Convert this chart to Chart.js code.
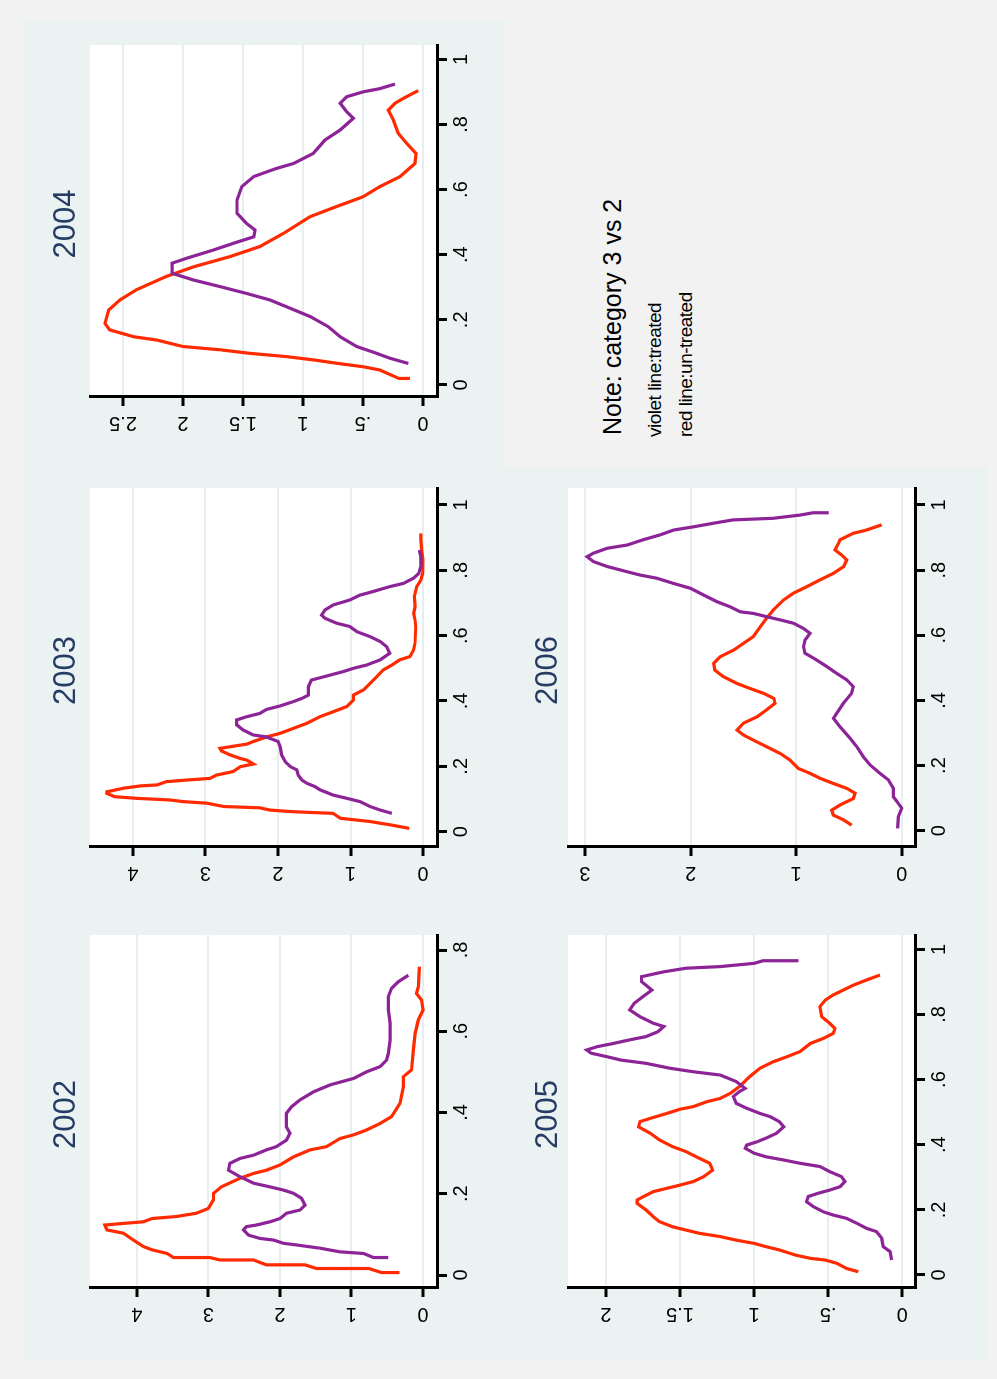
<!DOCTYPE html>
<html>
<head>
<meta charset="utf-8">
<script src="https://cdn.jsdelivr.net/npm/chart.js@4.4.1/dist/chart.umd.min.js"></script>
<style>
  html, body { margin: 0; padding: 0; background: #f7f7f7; overflow: hidden; }
  #stage {
    position: absolute; left: 0; top: 0; width: 1379px; height: 997px;
    transform-origin: 0 0; transform: translate(0, 1379px) rotate(-90deg);
    background: #f2f2f2;
  }
  #stage canvas { position: absolute; }
  .blue { position: absolute; left: 18px; top: 23px; width: 1341px; height: 965px; background: #eaf2f2; }
  .notebox { position: absolute; left: 912px; top: 505px; width: 447px; height: 483px; background: #f2f2f2; }
  .note { position: absolute; white-space: pre; font-family: "Liberation Sans", Arial, sans-serif; color: #000; }
</style>
</head>
<body>
<div id="stage">
  <div class="blue"></div>
  <div class="notebox"></div>
  <canvas id="c2002" width="447" height="482" style="left:18px;top:23px"></canvas>
  <canvas id="c2003" width="447" height="482" style="left:465px;top:23px"></canvas>
  <canvas id="c2004" width="447" height="482" style="left:912px;top:23px"></canvas>
  <canvas id="c2005" width="447" height="483" style="left:18px;top:505px"></canvas>
  <canvas id="c2006" width="447" height="483" style="left:465px;top:505px"></canvas>
  <div class="note" style="left:944px;top:600px;font-size:25px;line-height:25px">Note: category 3 vs 2</div>
  <div class="note" style="left:942px;top:645px;font-size:19px;line-height:19px;letter-spacing:-0.5px">violet line:treated</div>
  <div class="note" style="left:942px;top:676px;font-size:19px;line-height:19px;letter-spacing:-0.5px">red line:un-treated</div>
</div>
<script>
// tick values and labels
const xTicks2002 = [0, .2, .4, .6, .8];
const xLabels2002 = ['0', '.2', '.4', '.6', '.8'];
const xTicks = [0, .2, .4, .6, .8, 1];
const xLabels = ['0', '.2', '.4', '.6', '.8', '1'];
const yTicks2002 = [0, 1, 2, 3, 4];
const yTicks2003 = [0, 1, 2, 3, 4];
const yLabels04 = ['0', '1', '2', '3', '4'];
const yTicks2004 = [0, .5, 1, 1.5, 2, 2.5];
const yLabels2004 = ['0', '.5', '1', '1.5', '2', '2.5'];
const yTicks2005 = [0, .5, 1, 1.5, 2];
const yLabels2005 = ['0', '.5', '1', '1.5', '2'];
const yTicks2006 = [0, 1, 2, 3];
const yLabels2006 = ['0', '1', '2', '3'];

// 2002
const violet2002X = [0.043, 0.043, 0.053, 0.057, 0.066, 0.074, 0.078, 0.086, 0.09, 0.098, 0.111, 0.119, 0.123, 0.131, 0.139, 0.152, 0.16, 0.172, 0.189, 0.201, 0.209, 0.217, 0.226, 0.242, 0.258, 0.275, 0.287, 0.295, 0.308, 0.316, 0.332, 0.349, 0.365, 0.398, 0.414, 0.431, 0.451, 0.468, 0.484, 0.5, 0.513, 0.529, 0.546, 0.578, 0.62, 0.652, 0.685, 0.706, 0.722, 0.738];
const violet2002Y = [0.485, 0.695, 0.83, 1.16, 1.44, 1.77, 1.95, 2.09, 2.28, 2.44, 2.51, 2.47, 2.33, 2.14, 2.0, 1.91, 1.72, 1.65, 1.7, 1.81, 1.95, 2.14, 2.37, 2.56, 2.72, 2.7, 2.56, 2.37, 2.19, 2.05, 1.91, 1.86, 1.91, 1.91, 1.84, 1.72, 1.53, 1.3, 0.97, 0.79, 0.6, 0.51, 0.485, 0.46, 0.46, 0.485, 0.485, 0.44, 0.345, 0.205];
const red2002X = [0.006, 0.006, 0.016, 0.016, 0.025, 0.025, 0.037, 0.037, 0.043, 0.043, 0.053, 0.062, 0.07, 0.086, 0.103, 0.111, 0.123, 0.127, 0.131, 0.139, 0.144, 0.152, 0.164, 0.185, 0.201, 0.217, 0.238, 0.25, 0.258, 0.271, 0.291, 0.308, 0.316, 0.336, 0.345, 0.357, 0.373, 0.39, 0.423, 0.463, 0.488, 0.505, 0.554, 0.595, 0.628, 0.652, 0.677, 0.693, 0.71, 0.759];
const red2002Y = [0.33, 0.58, 0.76, 1.49, 1.65, 2.19, 2.37, 2.84, 2.98, 3.49, 3.58, 3.79, 3.91, 4.05, 4.19, 4.42, 4.45, 4.19, 3.91, 3.79, 3.45, 3.17, 3.0, 2.93, 2.93, 2.82, 2.56, 2.37, 2.19, 2.0, 1.81, 1.58, 1.35, 1.16, 0.97, 0.79, 0.6, 0.44, 0.32, 0.275, 0.275, 0.16, 0.135, 0.11, 0.065, 0.0, 0.02, 0.09, 0.065, 0.05];

// 2003
const violet2003X = [0.056, 0.066, 0.077, 0.092, 0.102, 0.112, 0.128, 0.138, 0.148, 0.158, 0.173, 0.189, 0.199, 0.214, 0.235, 0.26, 0.276, 0.29, 0.296, 0.311, 0.327, 0.342, 0.352, 0.362, 0.374, 0.385, 0.398, 0.408, 0.418, 0.444, 0.464, 0.474, 0.49, 0.5, 0.51, 0.526, 0.546, 0.566, 0.582, 0.597, 0.612, 0.628, 0.638, 0.653, 0.663, 0.679, 0.694, 0.709, 0.724, 0.735, 0.75, 0.76, 0.776, 0.79, 0.811, 0.842, 0.862];
const violet2003Y = [0.43, 0.59, 0.73, 0.87, 1.05, 1.24, 1.42, 1.49, 1.6, 1.67, 1.72, 1.74, 1.83, 1.9, 1.95, 1.97, 2.0, 2.16, 2.34, 2.48, 2.57, 2.57, 2.43, 2.25, 2.16, 1.97, 1.79, 1.67, 1.58, 1.58, 1.54, 1.37, 1.1, 0.96, 0.78, 0.59, 0.46, 0.5, 0.59, 0.73, 0.91, 1.01, 1.19, 1.35, 1.4, 1.35, 1.24, 1.01, 0.87, 0.69, 0.46, 0.27, 0.13, 0.06, 0.03, 0.03, 0.05];
const red2003X = [0.01, 0.02, 0.031, 0.041, 0.056, 0.061, 0.066, 0.073, 0.077, 0.087, 0.092, 0.097, 0.102, 0.107, 0.117, 0.122, 0.133, 0.14, 0.143, 0.153, 0.158, 0.163, 0.173, 0.184, 0.199, 0.207, 0.219, 0.224, 0.235, 0.247, 0.255, 0.26, 0.268, 0.276, 0.29, 0.301, 0.316, 0.332, 0.352, 0.367, 0.383, 0.403, 0.418, 0.434, 0.454, 0.474, 0.495, 0.51, 0.526, 0.536, 0.556, 0.577, 0.628, 0.648, 0.668, 0.689, 0.719, 0.75, 0.77, 0.79, 0.832, 0.862, 0.893, 0.913];
const red2003Y = [0.19, 0.43, 0.73, 1.14, 1.24, 1.79, 2.11, 2.25, 2.75, 2.98, 3.31, 3.49, 3.95, 4.25, 4.36, 4.36, 4.13, 3.9, 3.67, 3.54, 3.26, 2.94, 2.85, 2.62, 2.52, 2.34, 2.43, 2.52, 2.66, 2.78, 2.8, 2.66, 2.43, 2.34, 2.16, 1.97, 1.79, 1.6, 1.42, 1.24, 1.05, 0.96, 0.96, 0.82, 0.73, 0.64, 0.55, 0.43, 0.32, 0.18, 0.13, 0.11, 0.1, 0.11, 0.13, 0.11, 0.12, 0.087, 0.03, 0.005, 0.0, 0.02, 0.03, 0.03];

// 2004
const violet2004X = [0.066, 0.082, 0.097, 0.118, 0.148, 0.179, 0.21, 0.24, 0.261, 0.281, 0.302, 0.322, 0.343, 0.374, 0.389, 0.414, 0.435, 0.455, 0.476, 0.496, 0.527, 0.568, 0.609, 0.64, 0.665, 0.68, 0.711, 0.752, 0.783, 0.819, 0.839, 0.865, 0.885, 0.9, 0.91, 0.924];
const violet2004Y = [0.122, 0.275, 0.386, 0.553, 0.69, 0.79, 0.94, 1.136, 1.275, 1.47, 1.69, 1.91, 2.09, 2.09, 1.97, 1.75, 1.58, 1.41, 1.4, 1.47, 1.55, 1.55, 1.51, 1.41, 1.22, 1.08, 0.914, 0.817, 0.69, 0.58, 0.636, 0.69, 0.636, 0.5, 0.36, 0.233];
const red2004X = [0.02, 0.02, 0.046, 0.056, 0.066, 0.077, 0.087, 0.097, 0.108, 0.118, 0.138, 0.148, 0.169, 0.189, 0.23, 0.261, 0.292, 0.333, 0.363, 0.394, 0.425, 0.466, 0.517, 0.548, 0.578, 0.609, 0.64, 0.68, 0.711, 0.742, 0.773, 0.814, 0.844, 0.865, 0.88, 0.904];
const red2004Y = [0.108, 0.2, 0.36, 0.5, 0.706, 0.914, 1.136, 1.44, 1.69, 2.0, 2.22, 2.41, 2.61, 2.65, 2.62, 2.525, 2.39, 2.14, 1.91, 1.61, 1.36, 1.16, 0.94, 0.72, 0.5, 0.36, 0.19, 0.067, 0.058, 0.136, 0.206, 0.247, 0.289, 0.233, 0.164, 0.039];

// 2005
const violet2005X = [0.046, 0.072, 0.087, 0.113, 0.133, 0.143, 0.159, 0.174, 0.184, 0.194, 0.21, 0.225, 0.241, 0.251, 0.261, 0.271, 0.287, 0.302, 0.317, 0.333, 0.343, 0.353, 0.363, 0.374, 0.389, 0.399, 0.409, 0.42, 0.435, 0.455, 0.471, 0.486, 0.496, 0.512, 0.527, 0.548, 0.563, 0.573, 0.594, 0.614, 0.624, 0.635, 0.65, 0.66, 0.67, 0.681, 0.691, 0.701, 0.711, 0.722, 0.732, 0.747, 0.763, 0.773, 0.793, 0.814, 0.834, 0.855, 0.875, 0.901, 0.916, 0.931, 0.942, 0.947, 0.957, 0.965, 0.965];
const violet2005Y = [0.072, 0.083, 0.128, 0.139, 0.173, 0.24, 0.308, 0.376, 0.466, 0.533, 0.6, 0.646, 0.635, 0.567, 0.488, 0.42, 0.387, 0.41, 0.488, 0.556, 0.69, 0.8, 0.92, 1.0, 1.06, 1.05, 0.98, 0.92, 0.85, 0.8, 0.83, 0.89, 0.96, 1.05, 1.12, 1.14, 1.1, 1.06, 1.12, 1.23, 1.41, 1.57, 1.73, 1.9, 1.99, 2.1, 2.13, 2.06, 1.95, 1.84, 1.73, 1.65, 1.61, 1.68, 1.77, 1.84, 1.81, 1.75, 1.69, 1.76, 1.76, 1.61, 1.46, 1.23, 1.0, 0.94, 0.7];
const red2005X = [0.01, 0.02, 0.036, 0.046, 0.051, 0.061, 0.077, 0.087, 0.097, 0.107, 0.118, 0.128, 0.138, 0.148, 0.164, 0.179, 0.2, 0.22, 0.23, 0.24, 0.256, 0.266, 0.276, 0.287, 0.302, 0.322, 0.343, 0.363, 0.379, 0.394, 0.415, 0.435, 0.455, 0.471, 0.481, 0.496, 0.509, 0.517, 0.532, 0.542, 0.558, 0.578, 0.609, 0.635, 0.655, 0.67, 0.686, 0.711, 0.727, 0.742, 0.757, 0.773, 0.793, 0.824, 0.844, 0.86, 0.875, 0.89, 0.906, 0.921];
const red2005Y = [0.297, 0.376, 0.443, 0.52, 0.62, 0.72, 0.83, 0.92, 1.0, 1.12, 1.23, 1.37, 1.46, 1.55, 1.64, 1.68, 1.73, 1.79, 1.79, 1.75, 1.68, 1.59, 1.5, 1.41, 1.34, 1.28, 1.3, 1.39, 1.46, 1.55, 1.64, 1.7, 1.78, 1.77, 1.7, 1.59, 1.5, 1.41, 1.32, 1.23, 1.16, 1.1, 1.03, 0.96, 0.87, 0.78, 0.69, 0.62, 0.53, 0.466, 0.454, 0.49, 0.544, 0.556, 0.52, 0.466, 0.398, 0.33, 0.24, 0.15];

// 2006
const violet2006X = [0.007, 0.043, 0.069, 0.084, 0.104, 0.13, 0.156, 0.176, 0.202, 0.227, 0.258, 0.284, 0.319, 0.345, 0.36, 0.391, 0.422, 0.442, 0.463, 0.483, 0.504, 0.524, 0.545, 0.565, 0.585, 0.606, 0.621, 0.637, 0.647, 0.657, 0.667, 0.672, 0.688, 0.703, 0.724, 0.744, 0.759, 0.775, 0.785, 0.795, 0.811, 0.826, 0.841, 0.852, 0.867, 0.877, 0.893, 0.908, 0.923, 0.933, 0.944, 0.954, 0.959, 0.969, 0.976, 0.976];
const violet2006Y = [0.038, 0.032, 0.0, 0.032, 0.079, 0.079, 0.126, 0.205, 0.3, 0.363, 0.426, 0.489, 0.584, 0.647, 0.616, 0.553, 0.474, 0.458, 0.52, 0.616, 0.71, 0.805, 0.916, 0.93, 0.916, 0.868, 0.93, 1.026, 1.15, 1.28, 1.405, 1.53, 1.63, 1.75, 1.88, 2.0, 2.16, 2.32, 2.48, 2.6, 2.79, 2.92, 2.98, 2.92, 2.79, 2.6, 2.45, 2.29, 2.16, 1.97, 1.78, 1.6, 1.22, 0.96, 0.84, 0.69];
const red2006X = [0.017, 0.033, 0.048, 0.063, 0.079, 0.099, 0.115, 0.13, 0.145, 0.161, 0.176, 0.191, 0.217, 0.237, 0.258, 0.278, 0.294, 0.309, 0.33, 0.35, 0.371, 0.391, 0.406, 0.422, 0.437, 0.452, 0.473, 0.493, 0.514, 0.534, 0.555, 0.575, 0.596, 0.626, 0.652, 0.678, 0.708, 0.729, 0.749, 0.77, 0.79, 0.811, 0.831, 0.846, 0.862, 0.882, 0.893, 0.913, 0.923, 0.939];
const red2006Y = [0.474, 0.55, 0.647, 0.663, 0.584, 0.458, 0.442, 0.52, 0.647, 0.774, 0.868, 0.979, 1.058, 1.15, 1.28, 1.405, 1.5, 1.56, 1.5, 1.37, 1.28, 1.2, 1.21, 1.31, 1.44, 1.56, 1.69, 1.77, 1.78, 1.72, 1.59, 1.5, 1.405, 1.34, 1.28, 1.215, 1.12, 1.026, 0.9, 0.774, 0.647, 0.55, 0.52, 0.568, 0.632, 0.6, 0.584, 0.458, 0.332, 0.19];

const FONT = '"Liberation Sans", Arial, Helvetica, sans-serif';
const VIOLET = '#8c2497';
const RED = '#ff2a00';
const PANEL_BG = '#eaf2f2';
const GRID = '#e6eeee';
const Y_W = 30, X_H = 30;

// panel layout in unrotated page coordinates
const panels = [
  { id: 'c2002', title: '2002', box: [18, 23, 447, 482], area: [91, 90, 444, 437], xr: [-0.032, 0.837], yr: [-0.196, 4.657],
    xt: xTicks2002, xl: xLabels2002, yt: yTicks2002, yl: yLabels04, v: [violet2002X, violet2002Y], r: [red2002X, red2002Y] },
  { id: 'c2003', title: '2003', box: [465, 23, 447, 482], area: [532, 90, 891, 437], xr: [-0.047, 1.052], yr: [-0.193, 4.593],
    xt: xTicks, xl: xLabels, yt: yTicks2003, yl: yLabels04, v: [violet2003X, violet2003Y], r: [red2003X, red2003Y] },
  { id: 'c2004', title: '2004', box: [912, 23, 447, 482], area: [982, 90, 1334, 437], xr: [-0.037, 1.044], yr: [-0.117, 2.775],
    xt: xTicks, xl: xLabels, yt: yTicks2004, yl: yLabels2004, v: [violet2004X, violet2004Y], r: [red2004X, red2004Y] },
  { id: 'c2005', title: '2005', box: [18, 505, 447, 483], area: [91, 568, 444, 915], xr: [-0.04, 1.044], yr: [-0.086, 2.256],
    xt: xTicks, xl: xLabels, yt: yTicks2005, yl: yLabels2005, v: [violet2005X, violet2005Y], r: [red2005X, red2005Y] },
  { id: 'c2006', title: '2006', box: [465, 505, 447, 483], area: [532, 568, 891, 915], xr: [-0.05, 1.052], yr: [-0.126, 3.161],
    xt: xTicks, xl: xLabels, yt: yTicks2006, yl: yLabels2006, v: [violet2006X, violet2006Y], r: [red2006X, red2006Y] }
];

const pts = (xs, ys) => xs.map((x, i) => ({ x: x, y: ys[i] }));

// panel background, vertical y labels and title
const stataBits = {
  id: 'stataBits',
  beforeDraw(chart) {
    const { ctx, chartArea: a } = chart;
    ctx.save();
    ctx.fillStyle = PANEL_BG;
    ctx.fillRect(0, 0, chart.width, chart.height);
    ctx.fillStyle = '#fff';
    ctx.fillRect(a.left, a.top, a.right - a.left, a.bottom - a.top);
    ctx.restore();
  },
  afterDraw(chart, args, o) {
    const { ctx, chartArea: a } = chart;
    const y = chart.scales.y;
    ctx.save();
    ctx.fillStyle = '#000';
    ctx.font = '20px ' + FONT;
    ctx.textAlign = 'center';
    ctx.textBaseline = 'alphabetic';
    y.ticks.forEach((t, i) => {
      ctx.save();
      ctx.translate(a.left - 20, y.getPixelForValue(t.value));
      ctx.rotate(-Math.PI / 2);
      ctx.fillText(o.labels[i], 0, 0);
      ctx.restore();
    });
    ctx.fillStyle = '#273c64';
    ctx.font = '31px ' + FONT;
    ctx.fillText(o.title, (a.left + a.right) / 2 - 3, 52);
    ctx.restore();
  }
};

panels.forEach(p => {
  const [bx, by, bw, bh] = p.box;
  const [al, at, ar, ab] = p.area;
  new Chart(document.getElementById(p.id), {
    type: 'line',
    data: {
      datasets: [
        { data: pts(p.v[0], p.v[1]), borderColor: VIOLET, borderWidth: 3.2, pointRadius: 0, tension: 0, fill: false },
        { data: pts(p.r[0], p.r[1]), borderColor: RED, borderWidth: 3.2, pointRadius: 0, tension: 0, fill: false }
      ]
    },
    options: {
      responsive: false,
      animation: false,
      events: [],
      devicePixelRatio: 1,
      layout: {
        padding: { left: al - bx - Y_W, right: bx + bw - ar, top: at - by, bottom: by + bh - ab - X_H }
      },
      plugins: {
        legend: { display: false },
        tooltip: { enabled: false },
        stataBits: { labels: p.yl, title: p.title }
      },
      scales: {
        x: {
          type: 'linear',
          min: p.xr[0], max: p.xr[1],
          afterBuildTicks: s => { s.ticks = p.xt.map(v => ({ value: v })); },
          afterFit: s => { s.height = X_H; },
          ticks: { color: '#000', font: { family: FONT, size: 20 }, padding: 2, maxRotation: 0, callback: (v, i) => p.xl[i] },
          grid: { drawOnChartArea: false, tickColor: '#000', tickWidth: 3, tickLength: 10 },
          border: { color: '#000', width: 3 }
        },
        y: {
          type: 'linear',
          min: p.yr[0], max: p.yr[1],
          afterBuildTicks: s => { s.ticks = p.yt.map(v => ({ value: v })); },
          afterFit: s => { s.width = Y_W; },
          ticks: { display: false },
          grid: { color: GRID, lineWidth: 2, tickColor: '#000', tickWidth: 3, tickLength: 9 },
          border: { color: '#000', width: 3 }
        }
      }
    },
    plugins: [stataBits]
  });
});
</script>
</body>
</html>
